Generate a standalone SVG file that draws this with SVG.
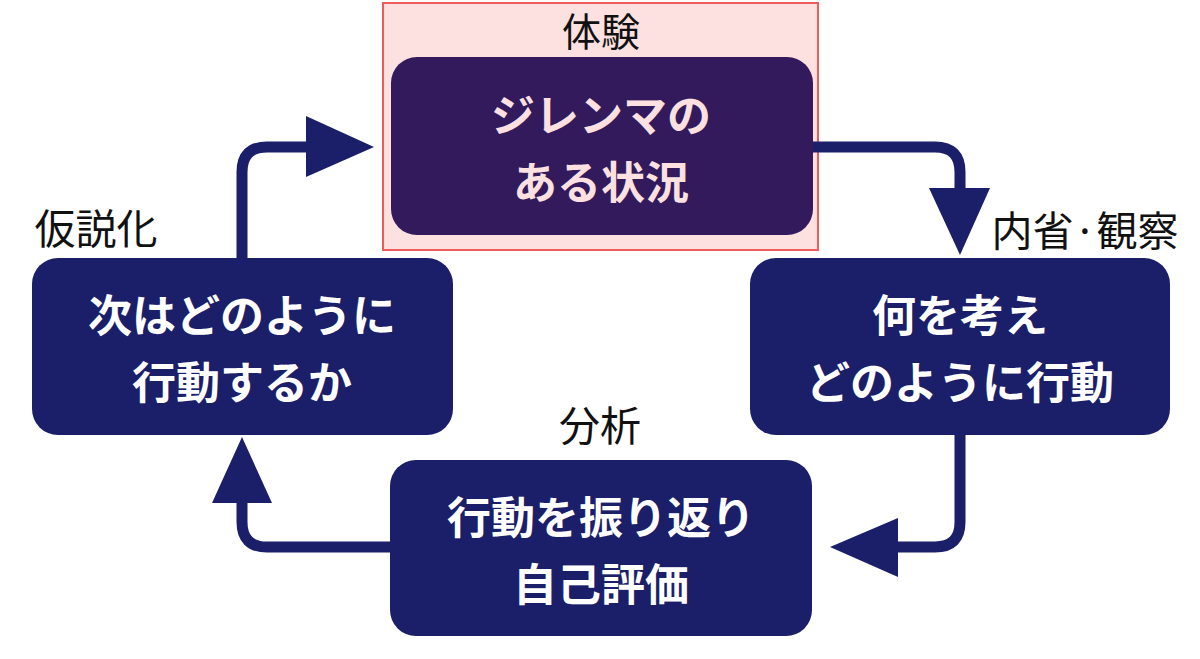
<svg xmlns="http://www.w3.org/2000/svg" width="1200" height="659" viewBox="0 0 1200 659">
<style>
.box{fill:#1b1e68}
.lbl{font-family:"Noto Sans CJK JP","Noto Sans CJK SC",sans-serif;font-size:41px;fill:#111;text-anchor:middle}
.bt{font-family:"Noto Sans CJK JP","Noto Sans CJK SC",sans-serif;font-size:44px;font-weight:700;fill:#fff;text-anchor:middle}
.con{fill:none;stroke:#1b1e68;stroke-width:11}
.head{fill:#1b1e68}
</style>
<rect width="1200" height="659" fill="#fff"/>
<g id="experience">
<rect x="383" y="3" width="435" height="247" fill="#fde1e1" stroke="#ef5b5b" stroke-width="2"/>
<text class="lbl" x="601" y="46" style="font-size:39px">体験</text>
<rect x="391" y="57" width="422" height="178" rx="26" fill="#321a5c"/>
<text class="bt" x="601" y="132" style="fill:#fde1e1">ジレンマの</text>
<text class="bt" x="601" y="199" style="fill:#fde1e1">ある状況</text>
</g>
<g id="reflection">
<text class="lbl" x="1085" y="246">内省·観察</text>
<rect class="box" x="750" y="258" width="420" height="177" rx="26"/>
<text class="bt" x="960" y="332">何を考え</text>
<text class="bt" x="960" y="399">どのように行動</text>
</g>
<g id="analysis">
<text class="lbl" x="600" y="441">分析</text>
<rect class="box" x="390" y="460" width="422" height="176" rx="26"/>
<text class="bt" x="601" y="534">行動を振り返り</text>
<text class="bt" x="601" y="601">自己評価</text>
</g>
<g id="hypothesis">
<text class="lbl" x="96" y="244">仮説化</text>
<rect class="box" x="32" y="258" width="421" height="177" rx="26"/>
<text class="bt" x="242" y="332">次はどのように</text>
<text class="bt" x="242" y="399">行動するか</text>
</g>
<g id="connectors">
<path class="con" d="M813 147 H935 Q960 147 960 172 V192"/>
<polygon class="head" points="929,188 990,188 960,255"/>
<path class="con" d="M960 435 V522 Q960 547 935 547 H894"/>
<polygon class="head" points="898,518 898,577 830,547"/>
<path class="con" d="M390 547 H267 Q242 547 242 522 V500"/>
<polygon class="head" points="212,503 272,503 242,437"/>
<path class="con" d="M242 258 V172 Q242 147 267 147 H310"/>
<polygon class="head" points="306,116 306,177 374,147"/>
</g>
</svg>
